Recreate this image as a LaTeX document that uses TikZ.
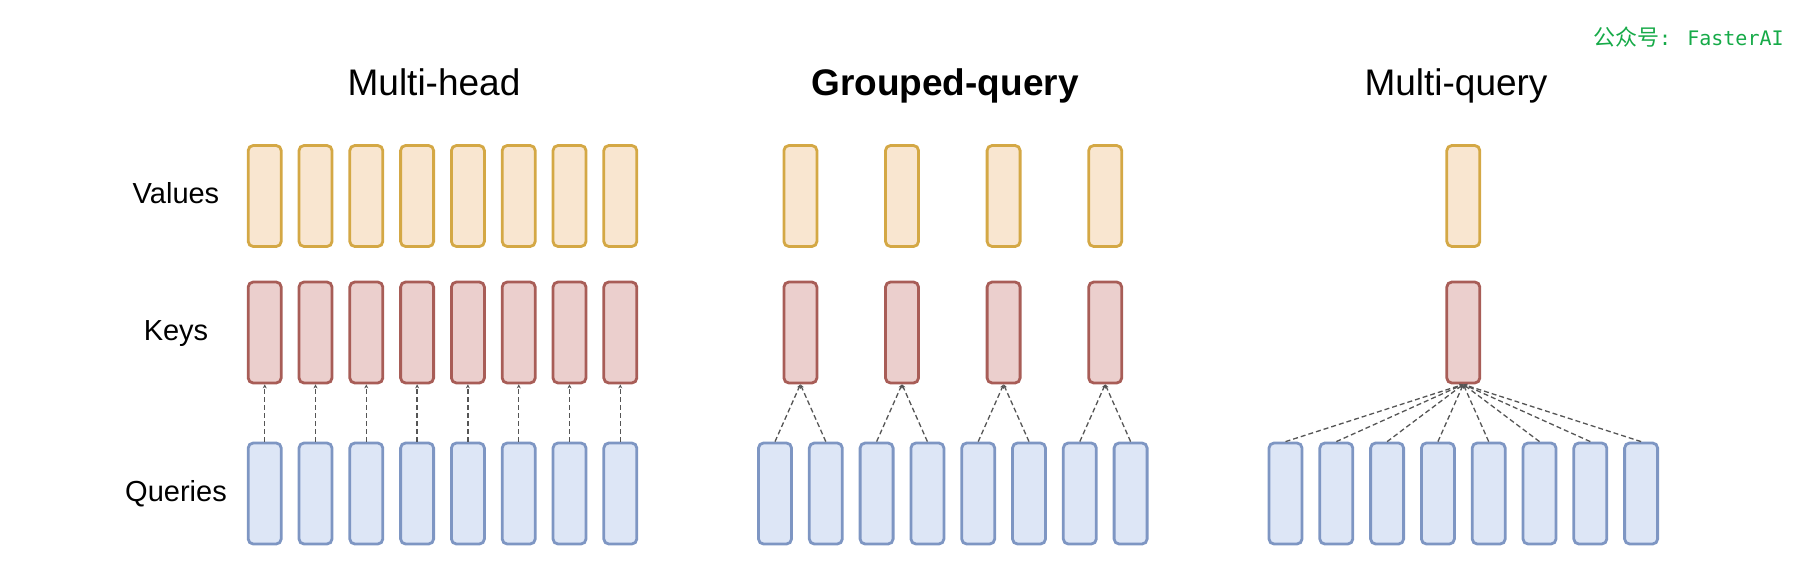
\documentclass[tikz,border=0pt]{standalone}
\usepackage{fontspec}
\setmainfont{Liberation Sans}
\newfontfamily\cjkfont{Noto Sans CJK SC}
\newfontfamily\wmmono{DejaVu Sans Mono}
\usepackage{xcolor}
\usetikzlibrary{arrows.meta, positioning}
\definecolor{ValFill}{RGB}{249,230,208}
\definecolor{ValDraw}{RGB}{212,168,69}
\definecolor{KeyFill}{RGB}{235,207,205}
\definecolor{KeyDraw}{RGB}{168,93,87}
\definecolor{QryFill}{RGB}{221,230,246}
\definecolor{QryDraw}{RGB}{126,150,195}
\definecolor{DashGray}{RGB}{85,85,85}
\definecolor{WmGreen}{RGB}{22,170,72}
\tikzset{
  >=Stealth,
  % caselle delle teste
  cell/.style={draw,rounded corners=5pt,line width=2.8pt,minimum width=33pt,minimum height=101pt,inner sep=0pt},
  cell value/.style={cell,draw=ValDraw,fill=ValFill},
  cell key/.style={cell,draw=KeyDraw,fill=KeyFill},
  cell query/.style={cell,draw=QryDraw,fill=QryFill},
  % collegamenti query -> key
  connect dash/.style={-{Stealth[length=4pt,width=4pt]},DashGray,line width=1.3pt,dash pattern=on 5pt off 3pt},
  % testi
  title/.style={anchor=base,inner sep=0pt,font=\fontsize{37}{44}\selectfont},
  row label/.style={anchor=base,inner sep=0pt,font=\fontsize{29}{34}\selectfont}
}
\begin{document}
\begin{tikzpicture}[x=1pt,y=-1pt]
  \useasboundingbox (0,0) rectangle (1806,578);
  \node[anchor=base west,inner sep=0pt,text=WmGreen] (wm) at (1593,46)
    {{\cjkfont\fontsize{22}{26}\selectfont 公众号}{\wmmono\fontsize{20}{24}\selectfont: FasterAI}};
  \node[title] (t-mh) at (434,95) {Multi-head};
  \node[title,font=\fontsize{37}{44}\selectfont\bfseries] (t-gq) at (945,95) {Grouped-query};
  \node[title] (t-mq) at (1456,95) {Multi-query};
  \node[row label] (l-v) at (176,203) {Values};
  \node[row label] (l-k) at (176,340) {Keys};
  \node[row label] (l-q) at (176,501) {Queries};
  % multi-head
  \foreach \i in {0,...,7}{
    \pgfmathsetmacro\xx{264.7+50.8*\i}
    \node[cell value] (v-mh-\i) at (\xx,196) {};
    \node[cell key] (k-mh-\i) at (\xx,332.5) {};
    \node[cell query] (q-mh-\i) at (\xx,493.5) {};
    \draw[connect dash] (q-mh-\i) -- (k-mh-\i);
  }
  % grouped-query
  \foreach \j in {0,...,3}{
    \pgfmathsetmacro\xx{800.4+101.6*\j}
    \node[cell value] (v-gq-\j) at (\xx,196) {};
    \node[cell key] (k-gq-\j) at (\xx,332.5) {};
  }
  \foreach \i in {0,...,7}{
    \pgfmathsetmacro\xx{775+50.8*\i}
    \pgfmathtruncatemacro\g{int(\i/2)}
    \node[cell query] (q-gq-\i) at (\xx,493.5) {};
    \draw[connect dash] (q-gq-\i.north) -- (k-gq-\g.south);
  }
  % multi-query
  \node[cell value] (v-mq) at (1463.3,196) {};
  \node[cell key] (k-mq) at (1463.3,332.5) {};
  \foreach \i in {0,...,7}{
    \pgfmathsetmacro\xx{1285.5+50.8*\i}
    \node[cell query] (q-mq-\i) at (\xx,493.5) {};
    \draw[connect dash] (q-mq-\i.north) -- (k-mq.south);
  }
\end{tikzpicture}
\end{document}
